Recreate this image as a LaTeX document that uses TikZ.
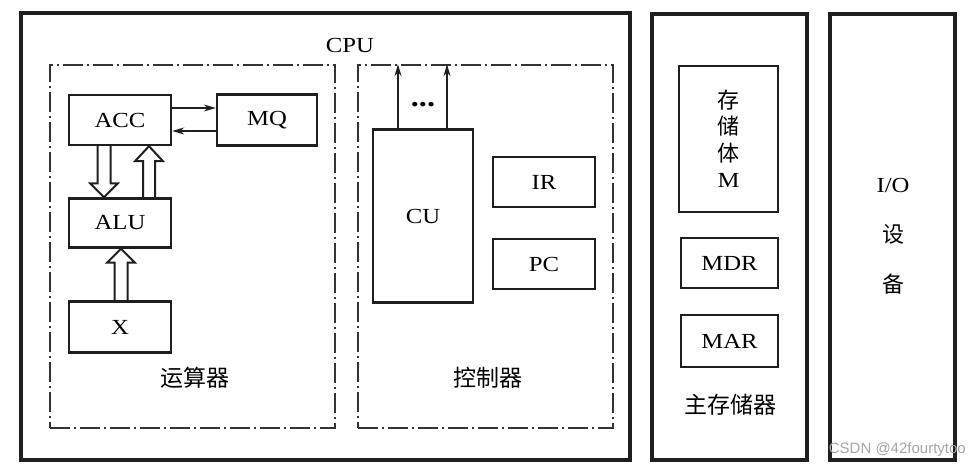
\documentclass[tikz,border=0pt]{standalone}
\usepackage{fontspec}
\setmainfont{Liberation Serif}[FakeStretch=1.15]
\newfontfamily\cjk{Noto Sans CJK SC}
\newfontfamily\wmfont{Liberation Sans}
\usetikzlibrary{calc,arrows.meta}
\begin{document}
\begin{tikzpicture}[x=1pt,y=-1pt,
  outerbox/.style={draw=black!88, line width=3.2pt, inner sep=0pt},
  regbox/.style={draw=black!88, line width=2.4pt, inner sep=0pt, font=\fontsize{21.5}{24}\selectfont},
  unitbox/.style={draw=black!80, line width=1.6pt, inner sep=0pt, dash pattern=on 20pt off 4pt on 2pt off 4pt},
  lbl/.style={font=\cjk\fontsize{23}{26}\selectfont, inner sep=0pt},
  lat/.style={font=\fontsize{21.5}{24}\selectfont, inner sep=0pt},
  arr/.style={draw=black!88, line width=1.4pt, -{Stealth[length=12pt,width=7pt]}},
  hollow/.style={draw=black!88, line width=2pt, line join=miter},
]
\useasboundingbox (0,0) rectangle (969,468);

% outer boxes
\node[outerbox, minimum width=609pt, minimum height=447pt] (cpu) at (325.5,236.5) {};
\node[outerbox, minimum width=155pt, minimum height=446pt] (mem) at (729.5,237) {};
\node[outerbox, minimum width=125pt, minimum height=446pt] (io) at (892.5,237) {};

% units
\node[unitbox, minimum width=285pt, minimum height=363pt] (arith) at (192.5,246.5) {};
\node[unitbox, minimum width=255pt, minimum height=363pt] (ctrl) at (485.5,246.5) {};

\node[lat] (cpulbl) at (350,45) {CPU};

% arithmetic unit
\node[regbox, minimum width=102pt, minimum height=50pt] (acc) at (120,120) {ACC};
\node[regbox, minimum width=100pt, minimum height=51pt] (mq) at (267,120) {MQ};
\node[regbox, minimum width=102pt, minimum height=49pt] (alu) at (120,223) {ALU};
\node[regbox, minimum width=102pt, minimum height=51pt] (xreg) at (120,327) {X};
\node[lbl] (arithlbl) at (195,378) {运算器};

\coordinate (am1) at ($(acc.east)+(0,-12)$);
\coordinate (ma1) at ($(mq.west)+(0,11)$);
\draw[arr] (am1) -- (am1 -| mq.west);
\draw[arr] (ma1) -- (ma1 -| acc.east);

% hollow arrow ACC -> ALU
\draw[hollow] ($(acc.south)+(-22.5,0)$) -- ($(alu.north)+(-22.5,-14)$) -- ($(alu.north)+(-30,-14)$)
  -- ($(alu.north)+(-16,0)$) -- ($(alu.north)+(-2,-14)$) -- ($(alu.north)+(-9.5,-14)$) -- ($(acc.south)+(-9.5,0)$);
% hollow arrow ALU -> ACC
\draw[hollow] ($(alu.north)+(23,0)$) -- ($(acc.south)+(23,15)$) -- ($(acc.south)+(15,15)$)
  -- ($(acc.south)+(29,0)$) -- ($(acc.south)+(43,15)$) -- ($(acc.south)+(35,15)$) -- ($(alu.north)+(35,0)$);
% hollow arrow X -> ALU
\draw[hollow] ($(xreg.north)+(-5.5,0)$) -- ($(alu.south)+(-5.5,14)$) -- ($(alu.south)+(-13,14)$)
  -- ($(alu.south)+(1,0)$) -- ($(alu.south)+(15,14)$) -- ($(alu.south)+(7.5,14)$) -- ($(xreg.north)+(7.5,0)$);

% control unit
\node[regbox, minimum width=100pt, minimum height=173pt] (cu) at (423,216) {CU};
\node[regbox, minimum width=102pt, minimum height=50pt] (ir) at (544,182) {IR};
\node[regbox, minimum width=102pt, minimum height=50pt] (pc) at (544,264) {PC};
\node[lbl] (ctrllbl) at (488,378) {控制器};
\coordinate (cu1) at ($(cu.north)+(-25,0)$);
\coordinate (cu2) at ($(cu.north)+(24,0)$);
\draw[arr] (cu1) -- (cu1 |- ctrl.north);
\draw[arr] (cu2) -- (cu2 |- ctrl.north);
\node[inner sep=0pt, font=\bfseries\fontsize{28}{30}\selectfont] (dots) at (423,105) {...};

% main memory
\node[regbox, minimum width=99pt, minimum height=146pt, align=center,
  font=\cjk\fontsize{22}{26.5}\selectfont] (store) at (728.5,139) {存\\储\\体\\{\rmfamily\fontsize{21.5}{24}\selectfont M}};
\node[regbox, minimum width=97pt, minimum height=50pt] (mdr) at (729.5,263) {MDR};
\node[regbox, minimum width=97pt, minimum height=52pt] (mar) at (729.5,341) {MAR};
\node[lbl] (memlbl) at (730,405) {主存储器};

% I/O
\node[inner sep=0pt, align=center, font=\cjk\fontsize{22}{50}\selectfont] (iolbl) at (893,236)
  {{\rmfamily\fontsize{21.5}{24}\selectfont I/O}\\设\\备};

% watermark
\node[anchor=east, inner sep=0pt, text=black!35, font=\wmfont\fontsize{15}{17}\selectfont] (wm) at (966,450) {CSDN @42fourtytoo};
\end{tikzpicture}
\end{document}
